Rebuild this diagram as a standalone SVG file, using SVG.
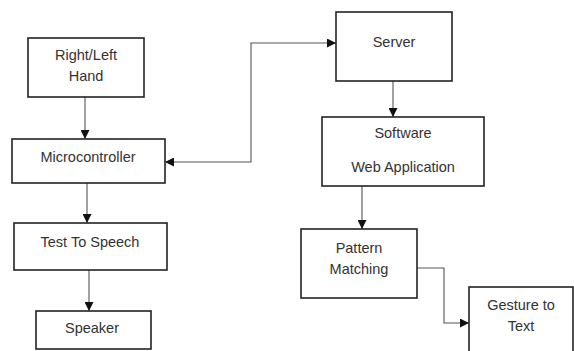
<svg xmlns="http://www.w3.org/2000/svg" width="574" height="351" viewBox="0 0 574 351">
<defs>
<marker id="arr" viewBox="0 0 10 10" refX="10" refY="5" markerWidth="9" markerHeight="9" markerUnits="userSpaceOnUse" orient="auto-start-reverse">
<path d="M0,0 L10,5 L0,10 z" fill="#111"/>
</marker>
<style>
.box{fill:#fff;stroke:#222;stroke-width:1.6}
.t{font-family:"Liberation Sans",Arial,sans-serif;font-size:14.5px;fill:#333;text-anchor:middle}
.c{fill:none;stroke:#555;stroke-width:1.1}
</style>
</defs>
<rect width="574" height="351" fill="#fff"/>
<g id="connectors">
<path class="c" d="M85,97 V139" marker-end="url(#arr)"/>
<path class="c" d="M165,162 H251 V43 H336" marker-start="url(#arr)" marker-end="url(#arr)"/>
<path class="c" d="M393,81 V117" marker-end="url(#arr)"/>
<path class="c" d="M362,186 V229" marker-end="url(#arr)"/>
<path class="c" d="M417,268 H444 V323 H469" marker-end="url(#arr)"/>
<path class="c" d="M87,183 V223" marker-end="url(#arr)"/>
<path class="c" d="M89,270 V311" marker-end="url(#arr)"/>
</g>
<g id="hand">
<rect class="box" x="28" y="38" width="116" height="59"/>
<text class="t" x="86" y="60">Right/Left</text>
<text class="t" x="86" y="81">Hand</text>
</g>
<g id="microcontroller">
<rect class="box" x="12" y="139" width="153" height="44"/>
<text class="t" x="88" y="162">Microcontroller</text>
</g>
<g id="tts">
<rect class="box" x="14" y="223" width="153" height="47"/>
<text class="t" x="90" y="247">Test To Speech</text>
</g>
<g id="speaker">
<rect class="box" x="36" y="311" width="115" height="38"/>
<text class="t" x="92" y="333">Speaker</text>
</g>
<g id="server">
<rect class="box" x="336" y="12" width="116" height="69"/>
<text class="t" x="394" y="47">Server</text>
</g>
<g id="software">
<rect class="box" x="322" y="117" width="162" height="69"/>
<text class="t" x="403" y="138">Software</text>
<text class="t" x="403" y="172">Web Application</text>
</g>
<g id="pattern">
<rect class="box" x="301" y="229" width="116" height="69"/>
<text class="t" x="359" y="253">Pattern</text>
<text class="t" x="359" y="274">Matching</text>
</g>
<g id="gesture">
<rect class="box" x="469" y="287" width="104" height="70"/>
<text class="t" x="521" y="310">Gesture to</text>
<text class="t" x="521" y="331">Text</text>
</g>
</svg>
